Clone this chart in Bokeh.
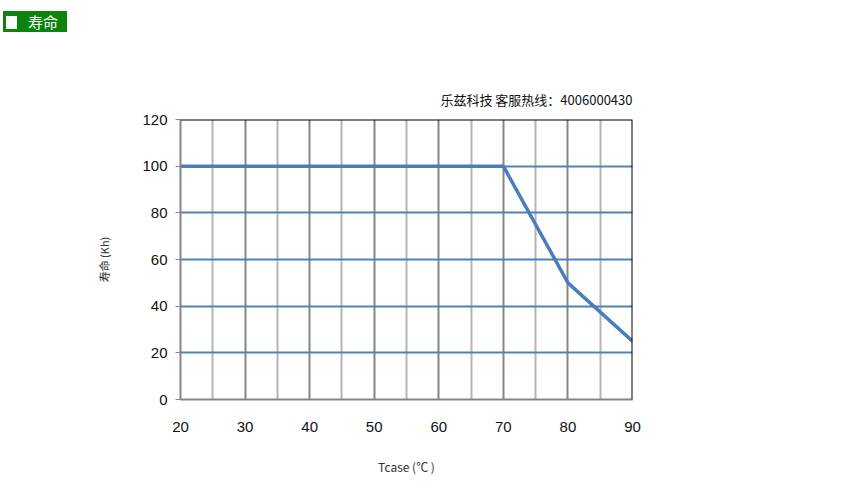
from bokeh.plotting import figure
from bokeh.models import (Range1d, FixedTicker, Grid, Span, Div, Title)
from bokeh.layouts import column
from bokeh.embed import file_html
from bokeh.resources import INLINE

# Data
tcase = [20, 70, 80, 90]
life_kh = [100, 100, 50, 25]
x_ticks = [20, 30, 40, 50, 60, 70, 80, 90]
x_minor = [25, 35, 45, 55, 65, 75, 85]
y_ticks = [0, 20, 40, 60, 80, 100, 120]
y_grid = [20, 40, 60, 80, 100]
header_text = "寿命"
title_text = "乐兹科技 客服热线：4006000430"
x_label = "Tcase (℃ )"
y_label = "寿命 (Kh)"

header = Div(
    text=('<div style="position:relative;left:3px;top:11px;width:64px;height:21px;'
          'background:#0b840b;color:white;font-family:\'Noto Sans CJK SC\';font-size:15px;'
          'line-height:21px;white-space:nowrap;">'
          '<span style="display:inline-block;width:11px;height:13px;background:white;'
          'margin-left:3px;margin-right:11px;vertical-align:-1px;"></span>' + header_text + '</div>'),
    width=854, height=38, margin=(0, 0, 0, 0))

p = figure(width=854, height=457, output_backend="svg", toolbar_location=None,
           x_range=Range1d(20, 90), y_range=Range1d(0, 120),
           min_border_left=180, min_border_right=222, min_border_top=81,
           min_border_bottom=96, margin=(0, 0, 0, 0))
p.title = Title(text=title_text, align="right", text_font="Noto Sans CJK SC",
                text_font_size="13px", text_font_style="normal", text_color="#111111",
                standoff=21)
p.outline_line_color = None
p.background_fill_color = "white"
p.border_fill_color = "white"

p.xgrid.visible = False
p.ygrid.visible = False

p.add_layout(Grid(dimension=0, ticker=FixedTicker(ticks=x_minor),
                  grid_line_color="#b4b4b4", grid_line_width=2))
p.add_layout(Grid(dimension=0, ticker=FixedTicker(ticks=x_ticks),
                  grid_line_color="#858585", grid_line_width=2))
p.add_layout(Grid(dimension=1, ticker=FixedTicker(ticks=y_grid),
                  grid_line_color="#4f81bd", grid_line_width=2))

p.add_layout(Span(location=120, dimension="width", line_color="black", line_width=2))
p.add_layout(Span(location=90, dimension="height", line_color="black", line_width=2))

p.line(tcase, life_kh, line_color="#4a7ebb", line_width=3.5)

xa = p.xaxis[0]
xa.ticker = FixedTicker(ticks=x_ticks)
xa.axis_line_color = "#858585"
xa.axis_line_width = 2
xa.major_tick_line_color = None
xa.minor_tick_line_color = None
xa.major_label_standoff = 16
xa.major_label_text_font = "Liberation Sans"
xa.major_label_text_font_size = "15px"
xa.major_label_text_color = "#111111"
xa.axis_label = x_label
xa.axis_label_text_font = "Noto Sans CJK SC"
xa.axis_label_text_font_size = "12px"
xa.axis_label_text_font_style = "normal"
xa.axis_label_text_color = "#333333"
xa.axis_label_standoff = 23

ya = p.yaxis[0]
ya.ticker = FixedTicker(ticks=y_ticks)
ya.axis_line_color = "#858585"
ya.axis_line_width = 2
ya.major_tick_line_color = "#858585"
ya.major_tick_out = 5
ya.major_tick_in = 0
ya.minor_tick_line_color = None
ya.major_label_standoff = 8
ya.major_label_text_font = "Liberation Sans"
ya.major_label_text_font_size = "15px"
ya.major_label_text_color = "#111111"
ya.axis_label = y_label
ya.axis_label_text_font = "Noto Sans CJK SC"
ya.axis_label_text_font_size = "11px"
ya.axis_label_text_font_style = "normal"
ya.axis_label_text_color = "#333333"
ya.axis_label_standoff = 27

layout = column(header, p, spacing=0, margin=(0, 0, 0, 0))
open("out.html", "w").write(file_html(layout, INLINE))
